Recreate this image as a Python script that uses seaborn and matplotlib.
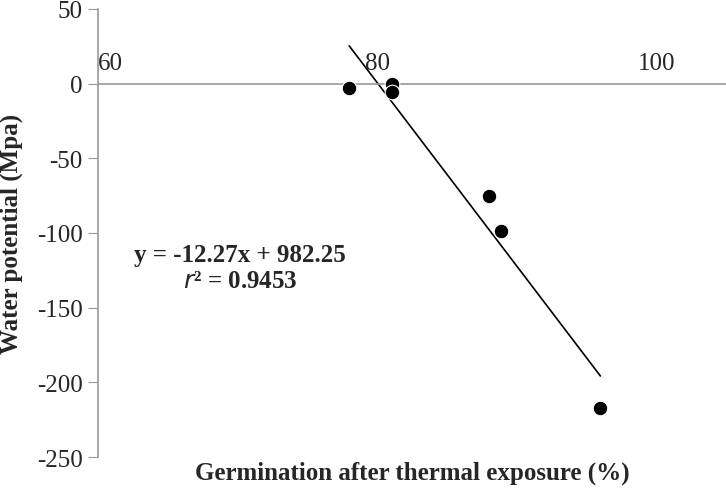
import matplotlib
matplotlib.use("Agg")
import matplotlib.pyplot as plt
import seaborn as sns
import numpy as np
import pandas as pd

germination = [78.0, 81.1, 81.1, 88.0, 88.9, 96.0]
water_potential = [-2.7, -0.2, -5.8, -75.4, -98.4, -216.9]
slope, intercept = -12.27, 982.25
fit_x = [78.0, 96.0]
x_ticks = [60, 80, 100]
y_ticks = [50, 0, -50, -100, -150, -200, -250]

sns.set_style("white")
plt.rcParams['font.family'] = ['Liberation Serif', 'DejaVu Serif']
plt.rcParams['axes.unicode_minus'] = False

fig = plt.figure(figsize=(7.26, 4.89), dpi=100)
ax = fig.add_axes([0.135, 0.063, 0.865, 0.917])
df = pd.DataFrame({"x": germination, "y": water_potential})
sns.scatterplot(data=df, x="x", y="y", ax=ax, color="black", s=110, edgecolor="white", linewidth=0.8, zorder=3)
fx = np.array(fit_x)
sns.lineplot(x=fx, y=slope * fx + intercept, ax=ax, color="black", linewidth=1.2)

ax.set_xlim(60, 105)
ax.set_ylim(-250, 50)
ax.set_xticks(x_ticks)
ax.set_yticks(y_ticks)
ax.spines['bottom'].set_position(('data', 0))
for s in ['top', 'right']:
    ax.spines[s].set_visible(False)
for s in ['left', 'bottom']:
    ax.spines[s].set_color('#999999')
    ax.spines[s].set_linewidth(1.2)
ax.tick_params(axis='x', direction='out', length=5, color='#999999', pad=-28, labelsize=18)
ax.tick_params(axis='y', direction='out', length=7, color='#999999', labelsize=18, left=True, pad=4)
labs = ax.get_xticklabels()
labs[0].set_horizontalalignment('left')
ax.set_xlabel("Germination after thermal exposure (%)", fontsize=18, fontweight='bold')
ax.set_ylabel("Water potential (Mpa)", fontsize=18, fontweight='bold')
ax.xaxis.set_label_coords(0.5, -0.008)
ax.yaxis.set_label_coords(-0.12, 0.5)

ax.text(70.2, -114.5, "y = -12.27x + 982.25", fontsize=18, fontweight='bold', ha='center', va='center')
ax.text(70.2, -132, r"$\mathbf{\mathit{r}}$² = 0.9453", fontsize=18, fontweight='bold', ha='center', va='center')

fig.savefig("out.png", dpi=100)
